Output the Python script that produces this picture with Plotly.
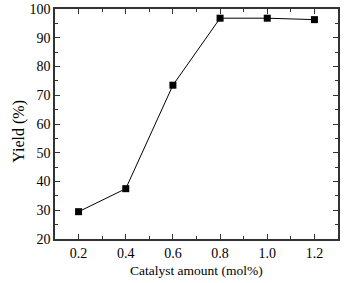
import plotly.graph_objects as go

catalyst = [0.2, 0.4, 0.6, 0.8, 1.0, 1.2]
yield_pct = [29.5, 37.5, 73.5, 96.8, 96.8, 96.3]
x_ticks = [0.2, 0.4, 0.6, 0.8, 1.0, 1.2]
x_tick_labels = ["0.2", "0.4", "0.6", "0.8", "1.0", "1.2"]
y_ticks = [20, 30, 40, 50, 60, 70, 80, 90, 100]

fig = go.Figure()
fig.add_trace(go.Scatter(
    x=catalyst, y=yield_pct, mode="lines+markers",
    line=dict(color="black", width=1),
    marker=dict(symbol="square", size=7, color="black"),
))

fam = "Liberation Serif, Times New Roman, serif"
tick_font = dict(family=fam, size=14, color="black")
title_font = dict(family=fam, size=13.5, color="black")
ytitle_font = dict(family=fam, size=16, color="black")
axis_common = dict(
    showgrid=False, zeroline=False, showline=True, linecolor="#333", linewidth=1.5,
    mirror="ticks", ticks="inside", ticklen=5, tickcolor="#333", tickwidth=1,
    tickfont=tick_font, automargin=False,
)
fig.update_xaxes(
    range=[0.1, 1.3], tickvals=x_ticks, ticktext=x_tick_labels,
    minor=dict(ticks="inside", ticklen=3, dtick=0.1, tick0=0.1, tickcolor="#333"),
    **axis_common,
)
fig.update_yaxes(
    range=[20, 100], tickvals=y_ticks,
    minor=dict(ticks="inside", ticklen=3, dtick=5, tick0=20, tickcolor="#333"),
    **axis_common,
)
fig.add_annotation(text="Catalyst amount (mol%)", xref="paper", yref="paper",
                   x=0.5, y=-0.139, xanchor="center", yanchor="middle",
                   showarrow=False, font=title_font)
fig.add_annotation(text="Yield (%)", xref="paper", yref="paper",
                   x=-0.127, y=0.467, xanchor="center", yanchor="middle",
                   textangle=-90, showarrow=False, font=ytitle_font)
fig.update_layout(
    width=346, height=283,
    margin=dict(l=55, r=8, t=9, b=44),
    plot_bgcolor="white", paper_bgcolor="white",
    showlegend=False, font=tick_font,
)
fig.write_html("out.html", config={"displayModeBar": False},
               post_script="document.body.style.margin='0';document.body.style.overflow='hidden';")
